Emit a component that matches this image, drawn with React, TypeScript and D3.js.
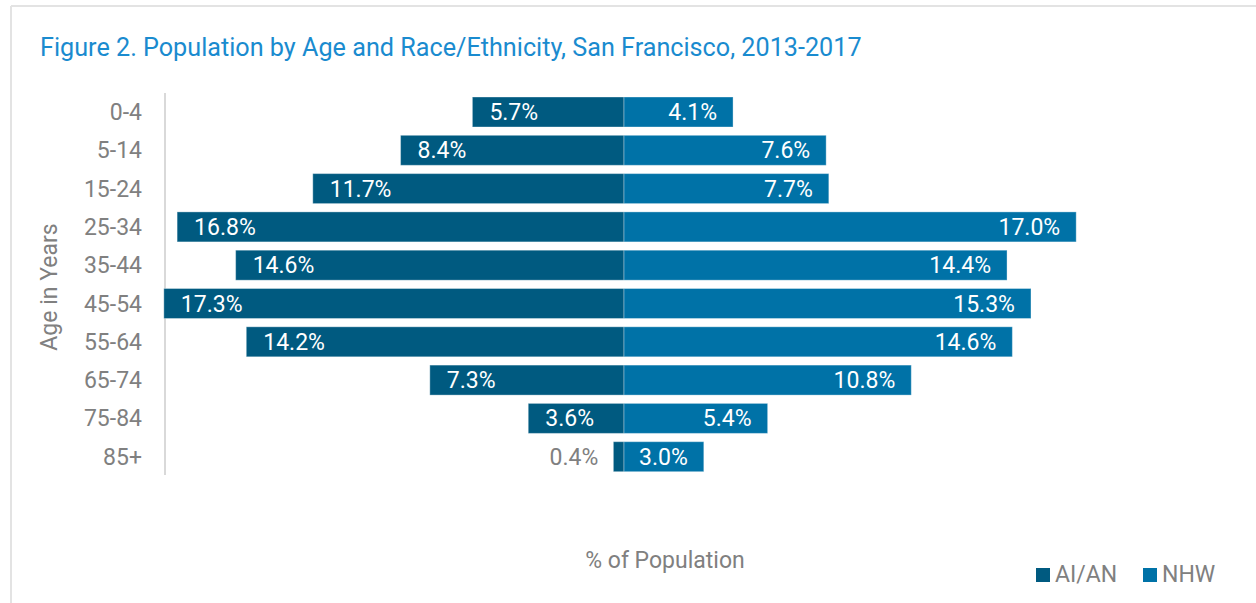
import React from "react";
import * as d3 from "d3";

const ageGroups = ["0-4", "5-14", "15-24", "25-34", "35-44", "45-54", "55-64", "65-74", "75-84", "85+"];
const aian = [5.7, 8.4, 11.7, 16.8, 14.6, 17.3, 14.2, 7.3, 3.6, 0.4];
const nhw = [4.1, 7.6, 7.7, 17.0, 14.4, 15.3, 14.6, 10.8, 5.4, 3.0];
const seriesNames = ["AI/AN", "NHW"];

const W = 1256;
const H = 603;
const DARK = "#005a80";
const LIGHT = "#0072a7";
const GRAY = "#808080";
const FONT = "Roboto, 'Noto Sans', sans-serif";

export default function App() {
  const x = d3.scaleLinear().domain([-18, 18]).range([624 - 18 * 26.6, 624 + 18 * 26.6]);
  const y = d3
    .scaleBand<string>()
    .domain(ageGroups)
    .range([112 - 38.3 / 2, 112 - 38.3 / 2 + 38.3 * ageGroups.length])
    .paddingInner(0.22)
    .paddingOuter(0.11);
  const bh = 30;
  const yc = (a: string) => (y(a) as number) + y.bandwidth() / 2;
  const fmt = (v: number) => v.toFixed(1) + "%";

  return (
    <svg width={W} height={H} style={{ position: "absolute", left: 0, top: 0 }} fontFamily={FONT}>
      <rect x={0} y={0} width={W} height={H} fill="#fff" />
      <line x1={11} y1={6} x2={W} y2={6} stroke="#e3e3e3" strokeWidth={2} />
      <line x1={11} y1={6} x2={11} y2={H} stroke="#e3e3e3" strokeWidth={2} />
      <text x={40} y={56} fontSize={25.2} fill="#1a8bcf">
        Figure 2. Population by Age and Race/Ethnicity, San Francisco, 2013-2017
      </text>

      <line x1={165} y1={93} x2={165} y2={475} stroke="#d9d9d9" strokeWidth={2} />

      {ageGroups.map((a) => (
        <text key={"t" + a} x={142} y={yc(a)} dy="0.35em" textAnchor="end" fontSize={23} fill={GRAY}>
          {a}
        </text>
      ))}

      {ageGroups.map((a, i) => (
        <g key={"b" + a}>
          <rect
            x={x(-aian[i])}
            y={yc(a) - bh / 2}
            width={x(0) - x(-aian[i])}
            height={bh}
            fill={DARK}
            stroke="#ffffff"
            strokeOpacity={0.35}
            strokeWidth={1}
          />
          <rect
            x={x(0)}
            y={yc(a) - bh / 2}
            width={x(nhw[i]) - x(0)}
            height={bh}
            fill={LIGHT}
            stroke="#ffffff"
            strokeOpacity={0.35}
            strokeWidth={1}
          />
          {aian[i] >= 1 ? (
            <text x={x(-aian[i]) + 17} y={yc(a)} dy="0.35em" fontSize={23} fill="#fff">
              {fmt(aian[i])}
            </text>
          ) : (
            <text x={x(-aian[i]) - 15} y={yc(a)} dy="0.35em" textAnchor="end" fontSize={23} fill={GRAY}>
              {fmt(aian[i])}
            </text>
          )}
          <text x={x(nhw[i]) - 16} y={yc(a)} dy="0.35em" textAnchor="end" fontSize={23} fill="#fff">
            {fmt(nhw[i])}
          </text>
        </g>
      ))}

      <text transform={`translate(57, 287) rotate(-90)`} textAnchor="middle" fontSize={23} fill={GRAY}>
        Age in Years
      </text>
      <text x={665} y={568} textAnchor="middle" fontSize={23} fill={GRAY}>
        % of Population
      </text>

      <rect x={1036} y={568} width={14} height={14} fill={DARK} />
      <text x={1055} y={582} fontSize={23} fill={GRAY}>
        {seriesNames[0]}
      </text>
      <rect x={1143} y={568} width={14} height={14} fill={LIGHT} />
      <text x={1162} y={582} fontSize={23} fill={GRAY}>
        {seriesNames[1]}
      </text>
    </svg>
  );
}
